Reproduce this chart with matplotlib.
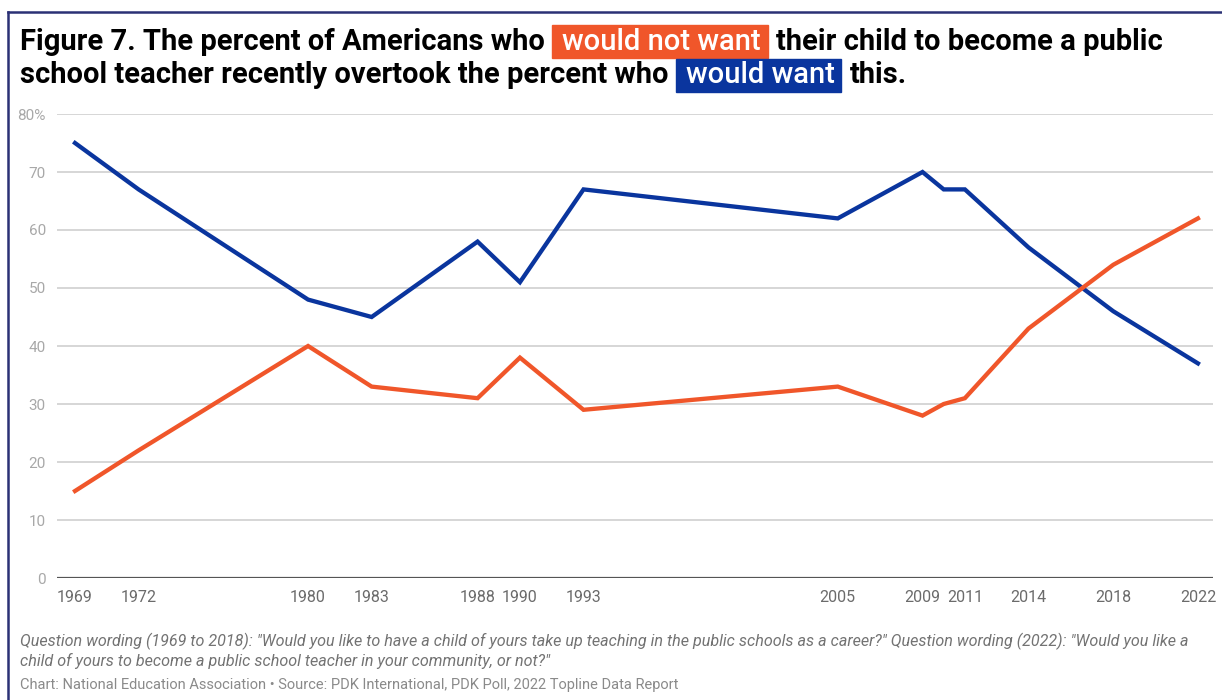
import matplotlib
matplotlib.use('Agg')
import matplotlib.pyplot as plt
from matplotlib.patches import Rectangle
from matplotlib.lines import Line2D

# ---------------- data ----------------
years = [1969, 1972, 1980, 1983, 1988, 1990, 1993, 2005, 2009, 2010, 2011, 2014, 2018, 2022]
would_want = [75, 67, 48, 45, 58, 51, 67, 62, 70, 67, 67, 57, 46, 37]
would_not_want = [15, 22, 40, 33, 31, 38, 29, 33, 28, 30, 31, 43, 54, 62]
tick_years = [1969, 1972, 1980, 1983, 1988, 1990, 1993, 2005, 2009, 2011, 2014, 2018, 2022]
y_ticks = [0, 10, 20, 30, 40, 50, 60, 70, 80]
y_labels = ['0', '10', '20', '30', '40', '50', '60', '70', '80%']

BLUE = '#0A359E'
ORANGE = '#F0562A'

plt.rcParams['font.family'] = ['Roboto', 'DejaVu Sans']

W, H = 1222, 700
fig = plt.figure(figsize=(W / 100, H / 100), dpi=100)

def fx(px):
    return px / W

def fy(py):
    return 1 - py / H

# ---------------- axes ----------------
ax = fig.add_axes([fx(57), fy(578), fx(1213) - fx(57), fy(114) - fy(578)])
ax.plot(years, would_want, color=BLUE, lw=3.1, solid_joinstyle='miter', zorder=3)
ax.plot(years, would_not_want, color=ORANGE, lw=3.1, solid_joinstyle='miter', zorder=3)
ax.set_xlim(1968.15, 2022.71)
ax.set_ylim(0, 80)
ax.set_yticks(y_ticks)
ax.set_yticklabels(y_labels)
ax.set_xticks(tick_years)
ax.set_xticklabels([str(y) for y in tick_years])
ax.tick_params(axis='y', length=0, pad=8, labelsize=11, labelcolor='#a8a8a8')
ax.tick_params(axis='x', length=0, pad=9, labelsize=11.5, labelcolor='#6b6b6b')
for s in ax.spines.values():
    s.set_visible(False)
ax.grid(axis='y', color='#cccccc', lw=1.1)
ax.grid(axis='x', visible=False)
ax.axhline(0, color='#555555', lw=1.6, zorder=2)

# ---------------- border ----------------
fig.add_artist(Line2D([fx(8), 1], [fy(12), fy(12)], color='#2B3175', lw=1.8))
fig.add_artist(Line2D([fx(8), fx(8)], [fy(12), 0], color='#2B3175', lw=1.8))

# ---------------- title with highlights ----------------
fig.canvas.draw()
renderer = fig.canvas.get_renderer()
TS = 21.0

def title_line(pieces, x0, baseline, box_top, box_bot):
    x = x0
    for txt, col in pieces:
        if col is None:
            t = fig.text(fx(x), fy(baseline), txt, fontsize=TS, fontweight='bold',
                         color='black', ha='left', va='baseline')
            bb = t.get_window_extent(renderer)
            x = x + bb.width + 7
        else:
            tx = x + 10
            t = fig.text(fx(tx), fy(baseline), txt, fontsize=TS, fontweight='medium',
                         color='white', ha='left', va='baseline', zorder=5)
            bb = t.get_window_extent(renderer)
            x_end = tx + bb.width + 7
            fig.add_artist(Rectangle((fx(x), fy(box_bot)), fx(x_end) - fx(x),
                                     fy(box_top) - fy(box_bot), color=col, zorder=4,
                                     transform=fig.transFigure))
            x = x_end + 9

title_line([("Figure 7. The percent of Americans who", None),
            ("would not want", ORANGE),
            ("their child to become a public", None)], 20, 50, 25, 57.5)
title_line([("school teacher recently overtook the percent who", None),
            ("would want", BLUE),
            ("this.", None)], 20, 83, 59, 92)

# ---------------- footnotes ----------------
fig.text(fx(20), fy(646), 'Question wording (1969 to 2018): "Would you like to have a child of yours take up teaching in the public schools as a career?" Question wording (2022): "Would you like a',
         fontsize=11.6, style='italic', color='#737373', ha='left', va='baseline')
fig.text(fx(20), fy(666), 'child of yours to become a public school teacher in your community, or not?"',
         fontsize=11.6, style='italic', color='#737373', ha='left', va='baseline')
fig.text(fx(20), fy(689), 'Chart: National Education Association \u2022 Source: PDK International, PDK Poll, 2022 Topline Data Report',
         fontsize=10.5, color='#8a8a8a', ha='left', va='baseline')

fig.savefig('out.png', dpi=100)
